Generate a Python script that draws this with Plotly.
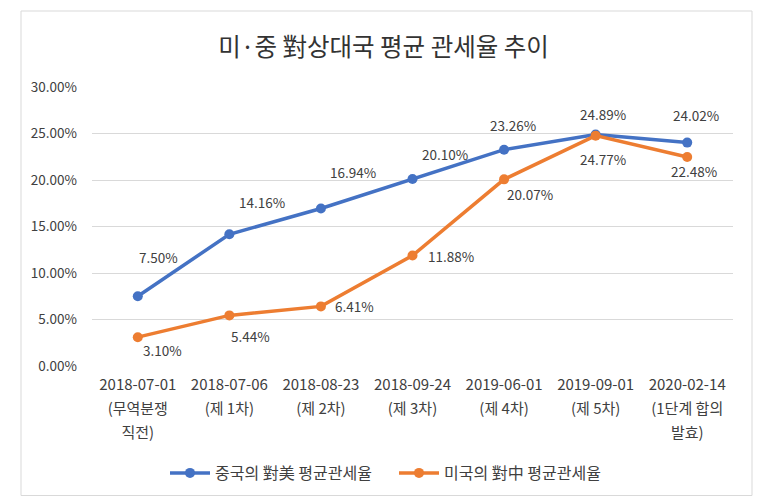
import plotly.graph_objects as go

categories = [
    "2018-07-01<br>(무역분쟁<br>직전)",
    "2018-07-06<br>(제 1차)",
    "2018-08-23<br>(제 2차)",
    "2018-09-24<br>(제 3차)",
    "2019-06-01<br>(제 4차)",
    "2019-09-01<br>(제 5차)",
    "2020-02-14<br>(1단계 합의<br>발효)",
]
china_to_us = [7.50, 14.16, 16.94, 20.10, 23.26, 24.89, 24.02]
us_to_china = [3.10, 5.44, 6.41, 11.88, 20.07, 24.77, 22.48]
series_names = ["중국의 對美 평균관세율", "미국의 對中 평균관세율"]
y_ticks = [0, 5, 10, 15, 20, 25, 30]

# label offsets (px) – styling only
blue_off = [(21, 39), (33, 32), (32, 36), (32, 25), (9, 25), (7, 21), (9, 28)]
orange_off = [(25, -13), (21, -21), (34, 0), (38, 0), (26, -15), (7, -23), (7, -14)]

FONT = "Noto Sans CJK KR"
BLUE = "#4472C4"
ORANGE = "#ED7D31"

fig = go.Figure()
for vals, name, col in [(china_to_us, series_names[0], BLUE), (us_to_china, series_names[1], ORANGE)]:
    fig.add_trace(go.Scatter(
        x=categories, y=vals, name=name, mode="lines+markers",
        line=dict(color=col, width=3.5),
        marker=dict(color=col, size=10),
    ))

annotations = []
for vals, offs in [(china_to_us, blue_off), (us_to_china, orange_off)]:
    for c, v, (dx, dy) in zip(categories, vals, offs):
        annotations.append(dict(
            x=c, y=v, xref="x", yref="y", text=f"{v:.2f}%", showarrow=False,
            xshift=dx, yshift=dy, font=dict(family=FONT, size=13.5, color="#404040"),
        ))

tick_text = ["<br>".join(f"<span style='font-size:15px'>{part}</span>" for part in c.split("<br>"))
             for c in categories]

# page body has an 8px margin; figure sized to fill the 767x504 window
fig.update_layout(
    width=751, height=488,
    margin=dict(l=84, r=26, t=79, b=130),
    paper_bgcolor="white", plot_bgcolor="white",
    font=dict(family=FONT, color="#595959"),
    title=dict(text="미·중 對상대국 평균 관세율 추이", x=0.5, xanchor="center",
               y=1 - 39 / 488, yanchor="middle",
               font=dict(family=FONT, size=24.5, color="#333333")),
    showlegend=True,
    legend=dict(orientation="h", xref="container", yref="container",
                x=386 / 751, xanchor="center", y=1 - 465 / 488, yanchor="middle",
                font=dict(family=FONT, size=16, color="#404040"),
                itemwidth=40, entrywidth=174, entrywidthmode="pixels",
                traceorder="normal"),
    annotations=annotations,
    shapes=[dict(type="rect", xref="paper", yref="paper",
                 x0=(13 - 84) / 641, x1=(744 - 84) / 641,
                 y0=(358 - 487.5) / 279, y1=(358 - 3) / 279,
                 line=dict(color="#D9D9D9", width=1), layer="below")],
)
fig.update_xaxes(type="category", range=[-0.5, 6.5], automargin=False,
                 showgrid=False, showline=False, ticks="",
                 tickvals=categories, ticktext=tick_text, tickangle=0,
                 tickfont=dict(family=FONT, size=18.5, color="#404040"),
                 ticklabelstandoff=4)
fig.update_yaxes(range=[0, 30], tickvals=y_ticks, automargin=False,
                 ticktext=[f"{t:.2f}%" for t in y_ticks],
                 showgrid=True, gridcolor="#D9D9D9", gridwidth=1,
                 zeroline=False, showline=False, ticks="",
                 tickfont=dict(family=FONT, size=13.5, color="#404040"),
                 ticklabelstandoff=14)
fig.write_html("out.html")
